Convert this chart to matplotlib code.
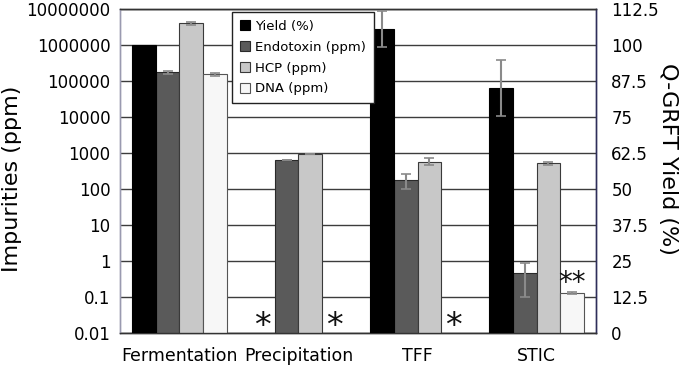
import numpy as np
import matplotlib
matplotlib.use("Agg")
import matplotlib.pyplot as plt
from matplotlib.patches import Patch
from matplotlib.ticker import FixedLocator, FixedFormatter, NullLocator

categories = ["Fermentation", "Precipitation", "TFF", "STIC"]
series = ["Yield (%)", "Endotoxin (ppm)", "HCP (ppm)", "DNA (ppm)"]

yield_pct = [100.0, np.nan, 105.6, 85.3]
yield_err = [0.0, 0.0, 6.3, 9.7]
endotoxin = [178000, 646, 182, 0.48]
endotoxin_err = [18000, 0, 80, 0.38]
hcp = [4.1e6, 960, 590, 533]
hcp_err = [4.0e5, 0, 130, 50]
dna = [157000, np.nan, np.nan, 0.128]
dna_err = [14000, 0, 0, 0.010]

# (category index, series index, mark)
marks = [(1, 0, "*"), (1, 3, "*"), (2, 3, "*"), (3, 3, "**")]
mark_y = [0.0084, 0.0084, 0.0084, 0.15]
mark_size = [24, 24, 24, 20]

left_ticks = [0.01, 0.1, 1, 10, 100, 1000, 10000, 100000, 1000000, 10000000]
left_labels = ["0.01", "0.1", "1", "10", "100", "1000", "10000", "100000", "1000000", "10000000"]
right_ticks = [0, 12.5, 25, 37.5, 50, 62.5, 75, 87.5, 100, 112.5]
right_labels = ["0", "12.5", "25", "37.5", "50", "62.5", "75", "87.5", "100", "112.5"]

colors = ["#000000", "#5a5a5a", "#c8c8c8", "#f7f7f7"]
edges = ["#000000", "#2a2a2a", "#3a3a3a", "#555555"]
errc = "#8a8a8a"

fig = plt.figure(figsize=(6.81, 3.65), dpi=100)
ax = fig.add_axes([0.1762, 0.0877, 0.6990, 0.8863])
ax2 = ax.twinx()

x = np.arange(len(categories))
w = 0.2
offs = (np.arange(4) - 1.5) * w

ax.set_yscale("log")
ax.set_ylim(0.01, 1e7)
ax.set_xlim(-0.5, 3.5)
ax2.set_ylim(0, 112.5)

ekw = dict(ecolor=errc, elinewidth=1.5, capsize=3.5, capthick=1.2)
ax.bar(x + offs[1], endotoxin, w, yerr=endotoxin_err, color=colors[1], edgecolor=edges[1], linewidth=0.8, error_kw=ekw, zorder=3)
ax.bar(x + offs[2], hcp, w, yerr=hcp_err, color=colors[2], edgecolor=edges[2], linewidth=0.8, error_kw=ekw, zorder=3)
ax.bar(x + offs[3], dna, w, yerr=dna_err, color=colors[3], edgecolor=edges[3], linewidth=0.8, error_kw=ekw, zorder=3)
ax2.bar(x + offs[0], yield_pct, w, color=colors[0], edgecolor=edges[0], linewidth=0.8, zorder=3)
ye = np.array(yield_err)
mask = ye > 0
ax2.errorbar((x + offs[0])[mask], np.array(yield_pct)[mask], yerr=ye[mask], fmt="none", zorder=4, **ekw)

for (ci, si, m), yy, fs in zip(marks, mark_y, mark_size):
    ax.text(x[ci] + offs[si], yy, m, ha="center", va="baseline", fontsize=fs, color="#111111", zorder=5)

ax.yaxis.set_major_locator(FixedLocator(left_ticks))
ax.yaxis.set_major_formatter(FixedFormatter(left_labels))
ax.yaxis.set_minor_locator(NullLocator())
ax.set_xticks(x)
ax.set_xticklabels(categories, fontsize=12.5)
ax.tick_params(axis="x", length=0, pad=10)
ax.tick_params(axis="y", length=0, pad=7, labelsize=12)
ax.grid(axis="y", which="major", color="#3c3c3c", linewidth=1.0, zorder=0)
ax.set_axisbelow(True)

ax2.yaxis.set_major_locator(FixedLocator(right_ticks))
ax2.yaxis.set_major_formatter(FixedFormatter(right_labels))
ax2.tick_params(axis="y", length=0, pad=11, labelsize=12)

fig.text(12 / 681, 1 - 179 / 365, "Impurities (ppm)", rotation=90, ha="center", va="center", fontsize=16)
fig.text(668 / 681, 1 - 159 / 365, "Q-GRFT Yield (%)", rotation=270, ha="center", va="center", fontsize=16)

for a in (ax, ax2):
    a.spines["top"].set_color("#333333")
    a.spines["bottom"].set_color("#333333")
    a.spines["left"].set_color("#9a9ab0")
    a.spines["right"].set_color("#2e2e5a")
    for s in a.spines.values():
        s.set_linewidth(1.0)

handles = [Patch(facecolor=colors[i], edgecolor=edges[i] if i else "#000000", linewidth=0.8, label=series[i]) for i in range(4)]
leg = ax2.legend(handles=handles, loc="upper left", bbox_to_anchor=(0.2347, 0.993), borderaxespad=0,
                 fontsize=9.5, frameon=True, fancybox=False, edgecolor="#222222", framealpha=1,
                 handlelength=0.8, handleheight=0.8, handletextpad=0.4, labelspacing=0.6, borderpad=0.6)
leg.get_frame().set_linewidth(1.0)
leg.set_zorder(10)

fig.savefig("out.png", dpi=100)
